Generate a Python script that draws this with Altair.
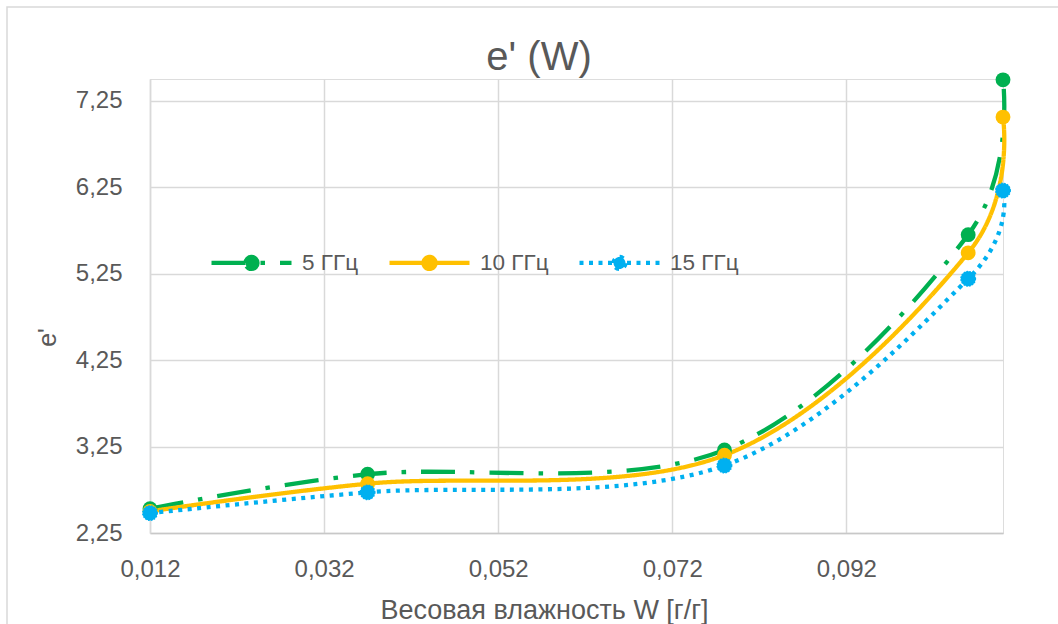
import altair as alt
import pandas as pd

# ---- data ----
W = [0.012, 0.037, 0.078, 0.106, 0.110]
e_5 = [2.53, 2.93, 3.21, 5.70, 7.49]
e_10 = [2.50, 2.82, 3.15, 5.49, 7.06]
e_15 = [2.48, 2.72, 3.03, 5.19, 6.21]
series_names = ["5 ГГц", "10 ГГц", "15 ГГц"]
series_colors = ["#00B050", "#FFC000", "#00B0F0"]
x_ticks = [0.012, 0.032, 0.052, 0.072, 0.092]
y_ticks = [2.25, 3.25, 4.25, 5.25, 6.25, 7.25]
title_text = "e' (W)"

rows = []
for name, vals in zip(series_names, [e_5, e_10, e_15]):
    for w, v in zip(W, vals):
        rows.append({"W": w, "e": v, "series": name})
df = pd.DataFrame(rows)

FONT = "Liberation Sans"
GREY = "#595959"
PW, PH = 853, 454

dashes = [[34, 15, 4.5, 15], [1, 0], [4, 5.5]]

xscale = alt.Scale(domain=[0.012, 0.110], nice=False, zero=False)
yscale = alt.Scale(domain=[2.25, 7.5], nice=False, zero=False)

xaxis = alt.Axis(values=x_ticks,
                 labelExpr="replace(format(datum.value, '.3f'), '.', ',')",
                 grid=True, gridColor="#d9d9d9", gridWidth=1.5,
                 domainColor="#c8c8c8", domainWidth=1.5, ticks=False,
                 labelFlush=False,
                 labelPadding=24, labelFontSize=24, labelColor=GREY, labelFont=FONT,
                 titleFontSize=27, titleColor=GREY, titleFont=FONT,
                 titleFontWeight="normal", titlePadding=16, titleX=394)
yaxis = alt.Axis(values=y_ticks,
                 labelExpr="replace(format(datum.value, '.2f'), '.', ',')",
                 grid=True, gridColor="#d9d9d9", gridWidth=1.5,
                 domainColor="#d9d9d9", domainWidth=1.5, ticks=False,
                 labelFlush=False,
                 labelPadding=28, labelFontSize=24, labelColor=GREY, labelFont=FONT,
                 titleFontSize=25, titleColor=GREY, titleFont=FONT,
                 titleFontWeight="normal", titleX=-103, titleY=258,
                 titleAlign="center", titleBaseline="middle", titleAngle=-90)

# legend symbol: a line through a round marker (unit coordinates)
sym_path = ("M-1,0L1,0M-0.15,0A0.15,0.15,0,1,1,0.15,0"
            "A0.15,0.15,0,1,1,-0.15,0Z")
leg = alt.Legend(orient="none", legendX=59, legendY=141, direction="horizontal",
                 symbolType=sym_path, symbolSize=6400, symbolStrokeWidth=4.3,
                 labelFontSize=22.5, labelFont=FONT, labelColor=GREY,
                 labelOffset=8, columnPadding=21, padding=0)

cdomain = alt.Scale(domain=series_names, range=series_colors)

frame = alt.Chart(pd.DataFrame({"a": [0]})).mark_rect(
    fillOpacity=0, stroke="#d9d9d9", strokeWidth=1.5
).encode(x=alt.value(-143), x2=alt.value(PW + 80), y=alt.value(-72), y2=alt.value(PH + 120))

title = alt.Chart(pd.DataFrame({"t": [title_text]})).mark_text(
    font=FONT, fontSize=40, color=GREY, align="center", baseline="alphabetic"
).encode(text="t:N", x=alt.value(389), y=alt.value(-9.5))

line = alt.Chart(df).mark_line(interpolate="cardinal", strokeWidth=4.3).encode(
    x=alt.X("W:Q", scale=xscale, axis=xaxis, title="Весовая влажность W [г/г]"),
    y=alt.Y("e:Q", scale=yscale, axis=yaxis, title="e'"),
    color=alt.Color("series:N", scale=cdomain, legend=leg, title=None),
    strokeDash=alt.StrokeDash("series:N", scale=alt.Scale(domain=series_names, range=dashes),
                              legend=leg, title=None),
)

pts = alt.Chart(df).mark_point(filled=True, size=220, opacity=1, strokeWidth=0).encode(
    x="W:Q", y="e:Q",
    fill=alt.Fill("series:N", scale=cdomain, legend=leg, title=None),
)

fuzz = alt.Chart(df).transform_filter(alt.datum.series == "15 ГГц").mark_point(
    filled=False, size=180, strokeWidth=2.5, strokeDash=[1.5, 1.2], color="#00B0F0", opacity=1
).encode(x="W:Q", y="e:Q")

chart = alt.layer(frame, title, line, pts, fuzz).properties(
    width=PW, height=PH,
    autosize=alt.AutoSizeParams(type="none"),
    padding={"left": 150, "top": 79, "right": 55, "bottom": 91},
).configure_view(strokeWidth=0).configure(background="white")

chart.save("out.html", embed_options={"renderer": "svg", "actions": False})
